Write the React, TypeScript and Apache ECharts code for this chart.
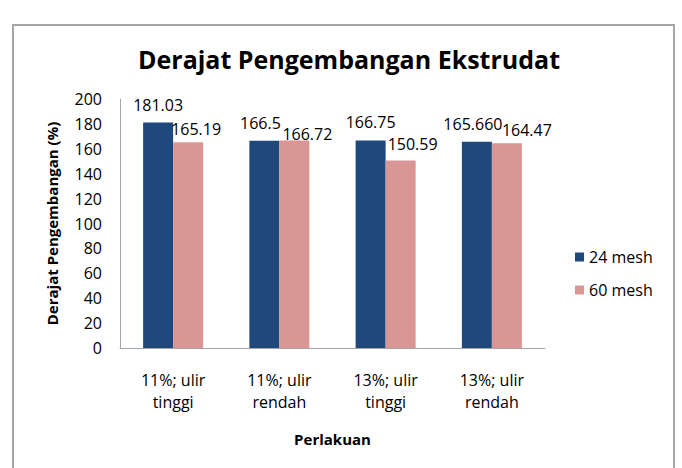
import React, { useEffect, useRef } from "react";
import * as echarts from "echarts";

const categories = ["11%; ulir\ntinggi", "11%; ulir\nrendah", "13%; ulir\ntinggi", "13%; ulir\nrendah"];
const seriesNames = ["24 mesh", "60 mesh"];
const mesh24 = [181.03, 166.5, 166.75, 165.66];
const mesh60 = [165.19, 166.72, 150.59, 164.47];
const mesh24Labels = ["181.03", "166.5", "166.75", "165.660"];
const mesh60Labels = ["165.19", "166.72", "150.59", "164.47"];
const yTicks = { min: 0, max: 200, interval: 20 };

const mesh24Offsets = [[0, 0], [-4, 0], [0, 0], [-4, 0]];
const mesh60Offsets = [[8, 5], [13, 12], [12, 1], [20, 5]];

const FONT = "'Open Sans', 'Noto Sans', sans-serif";

export default function App() {
  const ref = useRef<HTMLDivElement>(null);
  useEffect(() => {
    if (!ref.current) return;
    const chart = echarts.init(ref.current, null, { renderer: "svg" });
    const labelBase = {
      show: true,
      position: "top" as const,
      distance: 10,
      color: "#000",
      fontFamily: FONT,
      fontSize: 16,
    };
    chart.setOption({
      animation: false,
      backgroundColor: "#fff",
      title: {
        text: "Derajat Pengembangan Ekstrudat",
        left: 344,
        textAlign: "center",
        top: 41,
        textStyle: { fontFamily: FONT, fontWeight: "bold", fontSize: 25, color: "#000" },
      },
      graphic: [
        {
          type: "rect",
          shape: { x: 13, y: 25, width: 661, height: 460 },
          style: { fill: "none", stroke: "#a6a6a6", lineWidth: 2 },
          silent: true,
        },
      ],
      legend: {
        orient: "vertical",
        left: 570,
        top: 244,
        itemWidth: 9,
        itemHeight: 9,
        itemGap: 17,
        icon: "rect",
        textStyle: { fontFamily: FONT, fontSize: 16, color: "#000" },
        data: seriesNames,
      },
      grid: { left: 120, right: 137, top: 99, bottom: 120 },
      xAxis: {
        type: "category",
        data: categories,
        name: "Perlakuan",
        nameLocation: "middle",
        nameGap: 83,
        nameTextStyle: { fontFamily: FONT, fontWeight: "bold", fontSize: 15, color: "#000" },
        axisLine: { lineStyle: { color: "#a6a6a6", width: 1 } },
        axisTick: { show: false },
        axisLabel: {
          fontFamily: FONT,
          fontSize: 16,
          color: "#000",
          margin: 21,
          lineHeight: 22,
          interval: 0,
        },
      },
      yAxis: {
        type: "value",
        min: yTicks.min,
        max: yTicks.max,
        interval: yTicks.interval,
        name: "Derajat Pengembangan (%)",
        nameLocation: "middle",
        nameGap: 61,
        nameRotate: 90,
        nameTextStyle: { fontFamily: FONT, fontWeight: "bold", fontSize: 15, color: "#000" },
        axisLine: { show: true, lineStyle: { color: "#a6a6a6", width: 1 } },
        axisTick: { show: false },
        splitLine: { show: false },
        axisLabel: { fontFamily: FONT, fontSize: 16, color: "#000", margin: 18 },
      },
      series: [
        {
          name: seriesNames[0],
          type: "bar",
          barWidth: 30,
          barGap: "0%",
          itemStyle: { color: "#1F497D" },
          data: mesh24.map((v, i) => ({
            value: v,
            label: { ...labelBase, formatter: mesh24Labels[i], offset: mesh24Offsets[i] },
          })),
        },
        {
          name: seriesNames[1],
          type: "bar",
          barWidth: 30,
          barGap: "0%",
          itemStyle: { color: "#D99694" },
          data: mesh60.map((v, i) => ({
            value: v,
            label: { ...labelBase, formatter: mesh60Labels[i], offset: mesh60Offsets[i] },
          })),
        },
      ],
    });
    return () => chart.dispose();
  }, []);
  return (
    <div
      ref={ref}
      style={{ position: "absolute", left: 0, top: 0, width: 682, height: 468 }}
    />
  );
}
